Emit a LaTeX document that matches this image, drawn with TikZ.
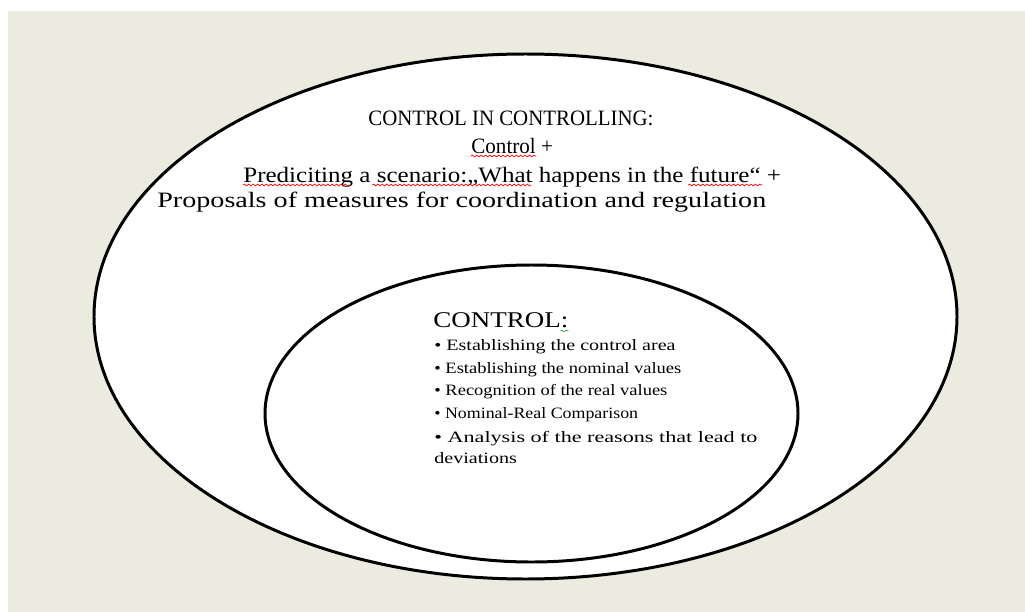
\documentclass[tikz,border=0pt]{standalone}
\usepackage{fontspec}
\setmainfont{Liberation Serif}
\usetikzlibrary{calc,decorations.pathmorphing}
\definecolor{slidebg}{RGB}{236,235,224}
\definecolor{spellgreen}{RGB}{60,160,60}
\newcommand{\wide}[2][1.2]{\scalebox{#1}[1]{#2}}
\begin{document}
\begin{tikzpicture}[x=0.02cm,y=-0.02cm,
  headline/.style={font=\fontsize{12.5}{15}\selectfont,anchor=base west,inner sep=0pt},
  boxhead/.style={font=\fontsize{12.8}{15}\selectfont,anchor=base west,inner sep=0pt},
  itemline/.style={font=\fontsize{9}{10}\selectfont,anchor=base west,inner sep=0pt},
  spell/.style={red,line width=0.4pt,decorate,decoration={snake,amplitude=0.5pt,segment length=2.5pt}}]
\useasboundingbox (0,0) rectangle (1025,612);
\fill[slidebg] (8,11) rectangle (1025,612);

\draw[line width=1.7pt,fill=white] (525.5,316.5) ellipse [x radius=431.5,y radius=262.5];
\draw[line width=1.7pt,fill=white] (531.5,413.5) ellipse [x radius=266.5,y radius=148.5];

\node[headline] (title) at (368,125) {\wide[0.95]{CONTROL IN CONTROLLING:}};
\node[headline] (plus) at (471,153) {\wide[0.96]{Control +}};
\node[headline] (scenario) at (243,182) {\wide[1.14]{Prediciting a scenario:,,What happens in the future`` +}};
\node[headline] (measures) at (157,207) {\wide[1.28]{Proposals of measures for coordination and regulation}};

\draw[spell] ($(plus.base west)+(0,3)$) -- ($(plus.base west)!0.79!(plus.base east)+(0,3)$);
\draw[spell] ($(scenario.base west)+(0,3)$) -- ($(scenario.base west)!0.197!(scenario.base east)+(0,3)$);
\draw[spell] ($(scenario.base west)!0.24!(scenario.base east)+(0,3)$) -- ($(scenario.base west)!0.535!(scenario.base east)+(0,3)$);
\draw[spell] ($(scenario.base west)!0.827!(scenario.base east)+(0,3)$) -- ($(scenario.base west)!0.965!(scenario.base east)+(0,3)$);

\node[boxhead] (control) at (433,327) {\wide{CONTROL:}};
\draw[spell,spellgreen] ($(control.base east)+(-8,4)$) -- ($(control.base east)+(0,4)$);
\foreach \txt/\yy/\sx [count=\i] in {Establishing the control area/350/1.27,
    Establishing the nominal values/373/1.17,
    Recognition of the real values/395/1.17,
    Nominal-Real Comparison/418/1.13,
    Analysis of the reasons that lead to/442/1.4}
  \node[itemline] (item\i) at (434,\yy) {\wide[\sx]{\textbullet\ \txt}};
\node[itemline] (item6) at (434,463) {\wide[1.27]{deviations}};

\end{tikzpicture}
\end{document}
